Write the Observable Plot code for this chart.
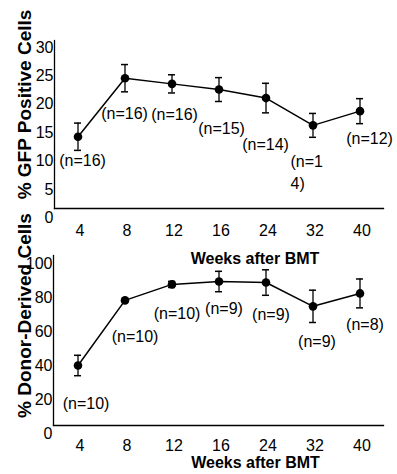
<!DOCTYPE html>
<html><head><meta charset="utf-8">
<script src="https://cdn.jsdelivr.net/npm/d3@7"></script>
<script src="https://cdn.jsdelivr.net/npm/@observablehq/plot@0.6"></script>
<style>
body{margin:0;background:#fff;}
#wrap{position:relative;width:397px;height:474px;overflow:hidden;font-family:"Liberation Sans",Arial,sans-serif;}
#top,#bottom{position:absolute;left:0;}
#top{top:0}
#bottom{top:240px}
</style></head><body><div id="wrap"><div id="top"></div><div id="bottom"></div></div>
<script>
// ---- data ----
const weeks = ["4","8","12","16","24","32","40"];
const gfpMean = [14.3, 24.6, 23.6, 22.6, 21.1, 16.3, 18.8];
const gfpErr  = [2.4, 2.4, 1.6, 2.1, 2.6, 2.1, 2.2];
const gfpN    = ["(n=16)","(n=16)","(n=16)","(n=15)","(n=14)","(n=1\n4)","(n=12)"];
const donorMean = [40, 78.3, 87.7, 89.4, 88.8, 74.8, 82.4];
const donorErr  = [6, 0.6, 1.8, 6, 7.5, 9.5, 8.5];
const donorN    = ["(n=10)","(n=10)","(n=10)","(n=9)","(n=9)","(n=9)","(n=8)"];
const gfpTicks = [0, 5, 10, 15, 20, 25, 30];
const donorTicks = [0, 20, 40, 60, 80, 100];
const xTitle = "Weeks after BMT";
const gfpTitle = "% GFP Positive Cells";
const donorTitle = "% Donor-Derived Cells";

// ---- layout (label offsets relative to each point, in px) ----
const gfpLabelOffsets = [[4.5,22],[-0.5,34],[2.5,29],[2.5,38],[-0.5,45],[-22.5,46],[9.5,26]];
const donorLabelOffsets = [[8,37],[10,35],[5,28],[5,26],[5,31],[4,34],[5,30]];

function panel(o) {
  const data = weeks.map((w, i) => ({week: w, mean: o.mean[i], lo: o.mean[i] - o.err[i], hi: o.mean[i] + o.err[i], label: o.labels[i]}));
  const labelMarks = data.map((d, i) => Plot.text([d], {
    x: "week", y: "mean", text: "label",
    dx: o.offsets[i][0], dy: o.offsets[i][1],
    textAnchor: d.label.includes("\n") ? "start" : "middle",
    lineHeight: 1.35, fontSize: 16, fill: "black"
  }));
  return Plot.plot({
    width: 397, height: o.height,
    marginLeft: o.marginLeft, marginRight: 14, marginTop: o.marginTop, marginBottom: o.marginBottom,
    style: {background: "transparent", overflow: "visible", fontFamily: "Liberation Sans, Arial, sans-serif", color: "black"},
    x: {type: "band", domain: weeks, padding: 0},
    y: {domain: o.domain, range: o.yRange},
    marks: [
      Plot.frame({anchor: "left", stroke: "black", strokeWidth: 1.3}),
      Plot.frame({anchor: "bottom", stroke: "black", strokeWidth: 1.3}),
      Plot.axisY(o.ticks, {tickSize: 0, tickPadding: 1, fontSize: 16, label: null, fill: "black"}),
      Plot.axisX({tickSize: 0, tickPadding: o.xPad, fontSize: 16, label: null, dx: 2, fill: "black"}),
      Plot.ruleX(data, {x: "week", y1: "lo", y2: "hi", stroke: "black", strokeWidth: 1.3}),
      Plot.tickY(data, {x: "week", y: "lo", insetLeft: 20, insetRight: 20, stroke: "black", strokeWidth: 1.5}),
      Plot.tickY(data, {x: "week", y: "hi", insetLeft: 20, insetRight: 20, stroke: "black", strokeWidth: 1.5}),
      Plot.line(data, {x: "week", y: "mean", stroke: "black", strokeWidth: 1.5}),
      Plot.dot(data, {x: "week", y: "mean", r: 4.3, fill: "black", stroke: "none"}),
      ...labelMarks,
      Plot.text([xTitle], {frameAnchor: "bottom", textAnchor: "middle", lineAnchor: "middle", dx: o.xTitleDx, dy: o.xTitleDy, fontSize: 16, fontWeight: "bold", fill: "black"}),
      Plot.text([o.yTitle], {frameAnchor: "left", rotate: -90, textAnchor: "middle", lineAnchor: "bottom", dx: o.yTitleDx, dy: o.yTitleDy, fontSize: 19, fontWeight: "bold", fill: "black"})
    ]
  });
}

document.getElementById("top").append(panel({
  mean: gfpMean, err: gfpErr, labels: gfpN, offsets: gfpLabelOffsets, ticks: gfpTicks,
  domain: [0, 30], yRange: [217.5, 47], height: 240, marginLeft: 54, marginTop: 40, marginBottom: 32,
  xPad: 16, xTitleDx: 36, xTitleDy: 50, yTitle: gfpTitle, yTitleDx: -24, yTitleDy: -20
}));
document.getElementById("bottom").append(panel({
  mean: donorMean, err: donorErr, labels: donorN, offsets: donorLabelOffsets, ticks: donorTicks,
  domain: [0, 100], yRange: [193, 23], height: 234, marginLeft: 53, marginTop: 15, marginBottom: 49,
  xPad: 14, xTitleDx: 37, xTitleDy: 37, yTitle: donorTitle, yTitleDx: -23, yTitleDy: -25
}));
</script></body></html>
